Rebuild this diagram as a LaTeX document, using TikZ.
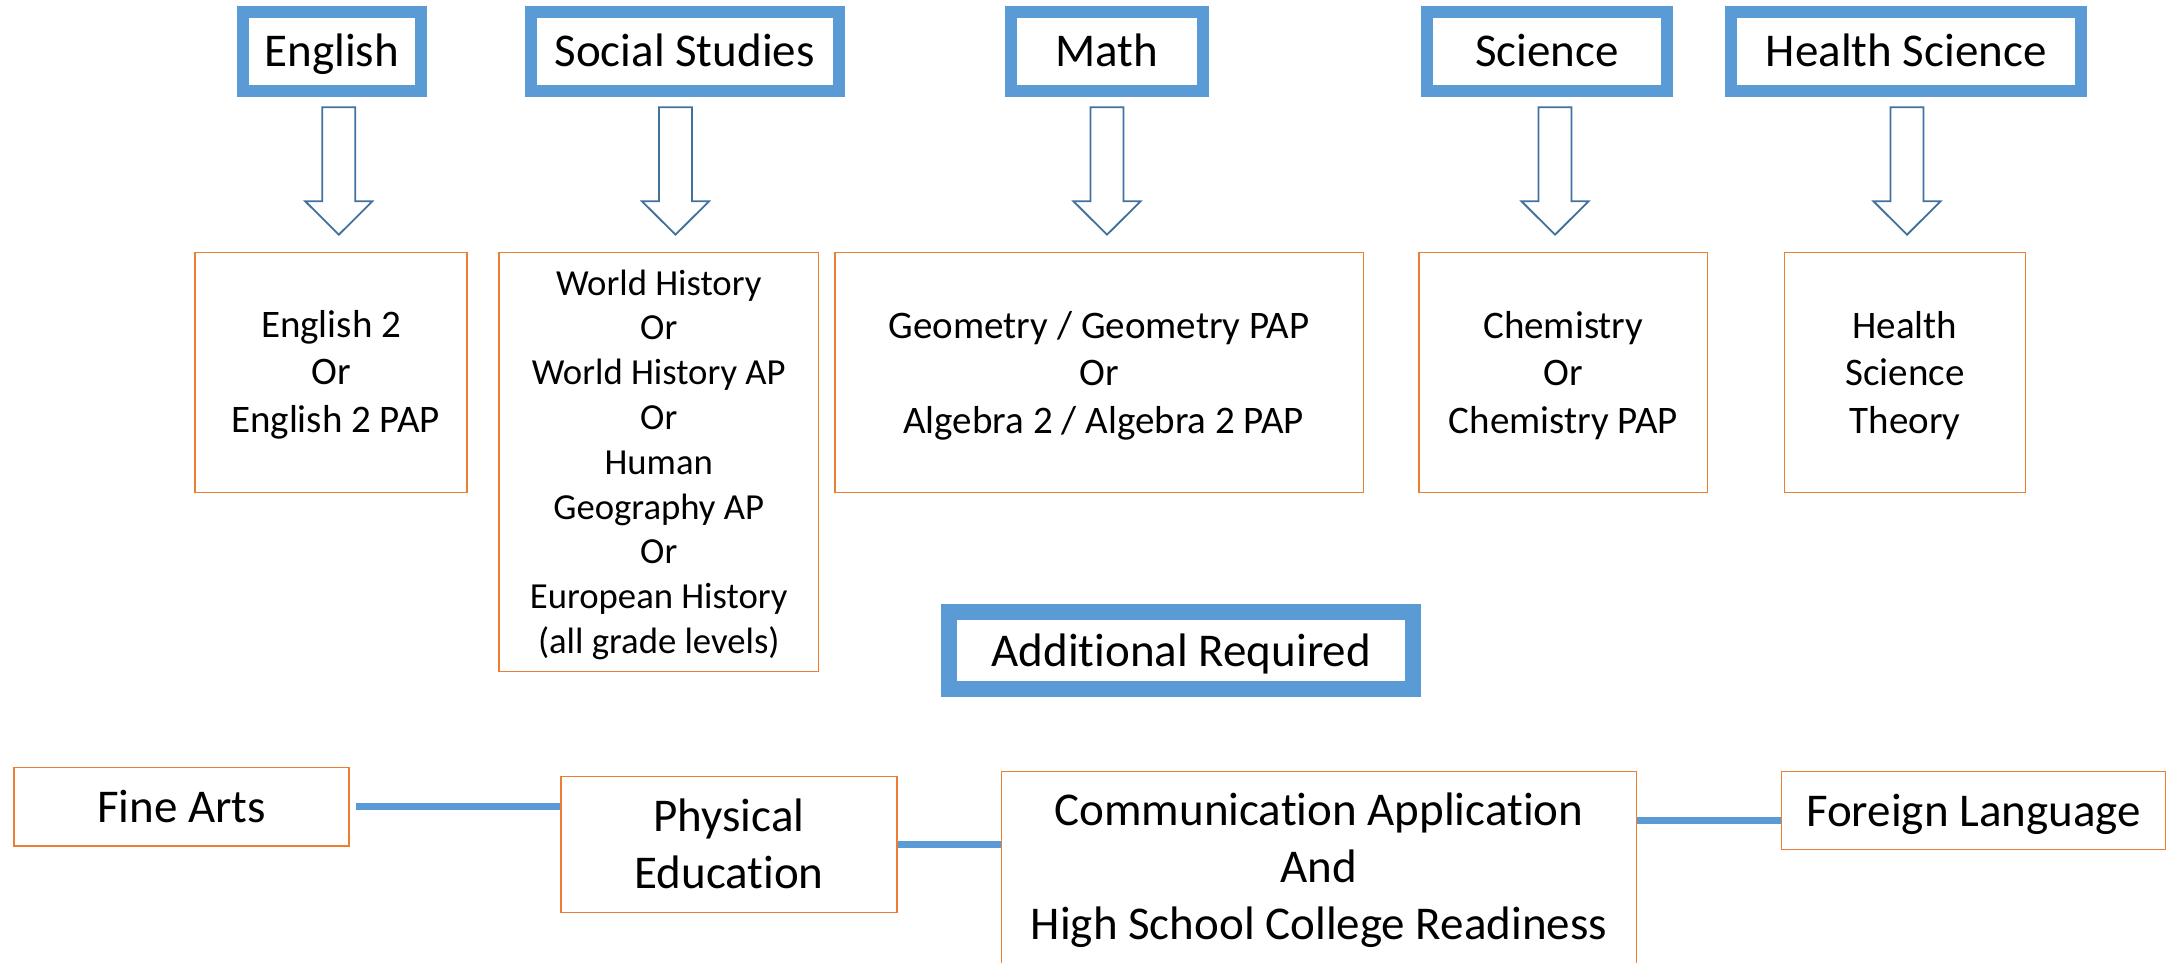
\documentclass[tikz,border=0pt]{standalone}
\usepackage{fontspec}
\setmainfont{Carlito}[Ligatures=NoCommon]
\definecolor{hblue}{HTML}{5B9BD5}
\definecolor{aline}{HTML}{41719C}
\definecolor{obord}{HTML}{ED7D31}
\newcommand\tp[1]{\rule{0pt}{#1pt}}
\newcommand\bt[1]{\rule[-#1pt]{0pt}{0pt}}
\begin{document}
\begin{tikzpicture}[x=1pt,y=-1pt,
  hdr/.style={draw=hblue, line width=12pt, fill=white, inner sep=0pt,
    text height=31pt, text depth=0pt, font=\fontsize{47pt}{57pt}\selectfont},
  obox/.style={draw=obord, line width=1.5pt, fill=white, inner sep=0pt, align=center,
    font=\fontsize{39pt}{47.5pt}\selectfont},
  bbox/.style={obox, font=\fontsize{47pt}{57pt}\selectfont},
  conn/.style={draw=hblue, line width=7pt},
  barrowline/.style={draw=aline, line width=1.8pt, fill=white, line join=miter}
]
\useasboundingbox[fill=white] (0,0) rectangle (2167,963);

% top headers
\node[hdr, minimum width=177.5pt, minimum height=78.4pt] (eng) at (331.75,51.5) {English};
\node[hdr, minimum width=307.9pt, minimum height=78.4pt] (soc) at (684.65,51.5) {Social Studies};
\node[hdr, minimum width=192pt, minimum height=78.4pt] (mat) at (1107,51.5) {Math};
\node[hdr, minimum width=239.7pt, minimum height=78.4pt] (sci) at (1546.85,51.5) {Science};
\node[hdr, minimum width=350.3pt, minimum height=78.4pt] (hsc) at (1906.15,51.5) {Health Science};

% course boxes
\node[obox, minimum width=272.2pt, minimum height=240pt] (eng2) at (331.1,372.3)
  {\tp{36.8}English 2\\Or\\\hspace*{.23em}English 2 PAP\bt{12}};
\node[obox, minimum width=319.9pt, minimum height=419pt,
  font=\fontsize{36.7pt}{44.8pt}\selectfont] (wh) at (658.75,461.8)
  {\tp{36.8}World History\\Or\\World History AP\\Or\\Human\\Geography AP\\Or\\European History\\(all grade levels)\bt{12}};
\node[obox, minimum width=528.5pt, minimum height=240.2pt] (geo) at (1099.05,372.4)
  {\tp{38.8}Geometry / Geometry PAP\\Or\\\hspace*{.23em}Algebra 2 / Algebra 2 PAP\bt{12}};
\node[obox, minimum width=288.7pt, minimum height=240.4pt] (chem) at (1563.35,372.5)
  {\tp{38}Chemistry\\Or\\Chemistry PAP\bt{12}};
\node[obox, minimum width=240.6pt, minimum height=240.4pt] (hst) at (1905,372.5)
  {\tp{38}Health\\Science\\Theory\bt{12}};

% block arrows
\foreach \ax in {338.8,675.5,1107,1555,1907}{
  \draw[barrowline] (\ax-16.5,107.3) -- (\ax+16.5,107.3) -- (\ax+16.5,201.3)
    -- (\ax+33.5,201.3) -- (\ax,234.7) -- (\ax-33.5,201.3) -- (\ax-16.5,201.3) -- cycle;
}

% additional required
\node[hdr, line width=16pt, minimum width=463.9pt, minimum height=77pt] (add) at (1181.35,650.8)
  {Additional Required};

% bottom row
\node[bbox, text height=31pt, text depth=0pt, minimum width=335pt, minimum height=78.3pt] (fa) at (181.5,806.85) {Fine Arts};
\node[bbox, minimum width=336pt, minimum height=136pt] (pe) at (729,844.7) {\tp{42.7}Physical\\Education\bt{12}};
\node[bbox, minimum width=634.9pt, minimum height=199.3pt] (cm) at (1318.95,871.35)
  {\tp{42.3}Communication Application\\And\\High School College Readiness\bt{20}};
\node[bbox, text height=31pt, text depth=0pt, minimum width=384pt, minimum height=77.6pt] (fl) at (1973.5,810.5) {Foreign Language};

\draw[conn] ([xshift=6pt]fa.east) -- (fa.east -| pe.west);
\draw[conn] (pe.east) -- (pe.east -| cm.west);
\draw[conn] ([yshift=-9.5pt]fl.west) -- ([yshift=-9.5pt]fl.west -| cm.east);
\end{tikzpicture}
\end{document}
